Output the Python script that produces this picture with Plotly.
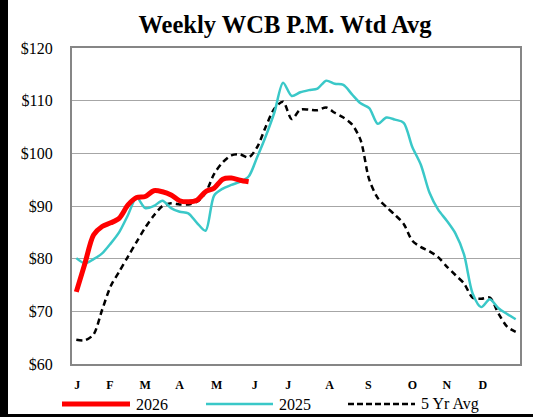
import plotly.graph_objects as go

# ---- data ----
weeks = list(range(1, 53))
series_names = ["2026", "2025", "5 Yr Avg"]

y2026 = [73.7, 79.1, 84.5, 86.1, 86.8, 87.7, 90.2, 91.6, 91.8, 92.9, 92.7,
         92.1, 91.0, 90.8, 91.1, 92.7, 93.4, 95.1, 95.3, 94.9, 94.6]

y2025 = [80.1, 79.1, 79.9, 81.0, 82.9, 85.1, 88.3, 91.6, 89.6, 90.0, 91.0,
         89.6, 88.9, 88.6, 86.8, 85.3, 92.0, 93.3, 94.0, 94.6, 95.6, 99.3,
         103.3, 107.8, 113.4, 110.9, 111.6, 112.0, 112.3, 113.8, 113.2, 113.0,
         111.2, 109.5, 108.6, 105.6, 106.8, 106.4, 105.8, 101.2, 97.8, 92.5,
         89.3, 87.2, 84.8, 80.8, 73.4, 70.8, 72.3, 70.6, 69.5, 68.5]

y5yr = [64.6, 64.5, 65.6, 70.3, 74.8, 77.6, 80.4, 83.2, 85.9, 88.2, 90.0,
        90.5, 90.3, 90.3, 90.8, 92.5, 96.1, 98.3, 99.6, 99.8, 99.2, 101.2,
        105.1, 108.5, 109.8, 106.5, 108.3, 108.3, 108.2, 108.7, 107.7, 106.8,
        105.5, 102.5, 95.0, 91.5, 89.8, 88.3, 86.6, 83.4, 82.2, 81.4, 80.3,
        78.5, 76.9, 75.3, 72.6, 72.4, 72.6, 69.6, 67.1, 66.1]

month_labels = ["J", "F", "M", "A", "M", "J", "J", "A", "S", "O", "N", "D"]
month_pos = [1.1, 4.9, 9.0, 13.0, 17.3, 21.7, 25.6, 30.4, 34.9, 40.0, 44.0, 48.2]
y_ticks = [60, 70, 80, 90, 100, 110, 120]

# ---- styling ----
W, H = 533, 417
ML, MR, MT, MB = 72, 13, 48, 53
PW, PH = W - ML - MR, H - MT - MB
SERIF = "Liberation Serif"
RED = "#ff0000"
CYAN = "#3ac8c8"
BLACK = "#000000"


def px_x(px):
    return (px - ML) / PW


def px_y(py):
    return (H - MB - py) / PH


fig = go.Figure()
fig.add_trace(go.Scatter(x=weeks[:len(y5yr)], y=y5yr, mode="lines", name=series_names[2],
                         line=dict(color=BLACK, width=2.5, dash="6px,4px", shape="spline", smoothing=0.8)))
fig.add_trace(go.Scatter(x=weeks[:len(y2025)], y=y2025, mode="lines", name=series_names[1],
                         line=dict(color=CYAN, width=2.5, shape="spline", smoothing=0.8)))
fig.add_trace(go.Scatter(x=weeks[:len(y2026)], y=y2026, mode="lines", name=series_names[0],
                         line=dict(color=RED, width=5, shape="spline", smoothing=0.8)))

shapes = []
annotations = []

# custom legend (long sample lines as in the reference)
leg_y = px_y(404)
legend_items = [
    (series_names[0], dict(color=RED, width=5), 62, 130, 134),
    (series_names[1], dict(color=CYAN, width=2.5), 206, 273, 277),
    (series_names[2], dict(color=BLACK, width=2.5, dash="6px,3px"), 348, 415, 419),
]
for name, ln, x0, x1, tx in legend_items:
    shapes.append(dict(type="line", xref="paper", yref="paper",
                       x0=px_x(x0), x1=px_x(x1), y0=leg_y, y1=leg_y, line=ln))
    annotations.append(dict(text=name, xref="paper", yref="paper", x=px_x(tx), y=leg_y,
                            xanchor="left", yanchor="middle", showarrow=False,
                            font=dict(family=SERIF, size=16, color="black")))

# black outer frame pieces (left bar and bottom line)
shapes.append(dict(type="line", xref="paper", yref="paper", x0=px_x(4), x1=px_x(4),
                   y0=px_y(417), y1=px_y(0), line=dict(color="black", width=8)))
shapes.append(dict(type="line", xref="paper", yref="paper", x0=px_x(0), x1=px_x(533),
                   y0=px_y(415.5), y1=px_y(415.5), line=dict(color="black", width=3)))

fig.update_layout(
    width=W, height=H,
    margin=dict(l=ML, r=MR, t=MT, b=MB, pad=0),
    paper_bgcolor="white", plot_bgcolor="white",
    showlegend=False,
    title=dict(text="<b>Weekly WCB P.M. Wtd Avg</b>", x=285 / W, xanchor="center",
               y=1 - 24 / H, yanchor="middle", yref="container",
               font=dict(family=SERIF, size=24.5, color="black")),
    shapes=shapes,
    annotations=annotations,
)
fig.update_xaxes(range=[0.5, 52.5], tickmode="array", tickvals=month_pos, ticktext=month_labels,
                 showgrid=False, zeroline=False, showline=True, mirror=True,
                 linecolor="#868686", linewidth=2, ticks="outside", ticklen=9,
                 tickcolor="rgba(0,0,0,0)",
                 tickfont=dict(family=SERIF, size=12, color="black", weight="bold"))
fig.update_yaxes(range=[60, 120], tickmode="array", tickvals=y_ticks,
                 ticktext=[f"${v}" for v in y_ticks],
                 showgrid=True, gridcolor="#a6a6a6", gridwidth=1, zeroline=False,
                 showline=True, mirror=True, linecolor="#868686", linewidth=2,
                 ticks="outside", ticklen=14, tickcolor="rgba(0,0,0,0)",
                 tickfont=dict(family=SERIF, size=16, color="black"))

fig.write_html("out.html", config={"displayModeBar": False},
               post_script="document.body.style.margin='0';")
